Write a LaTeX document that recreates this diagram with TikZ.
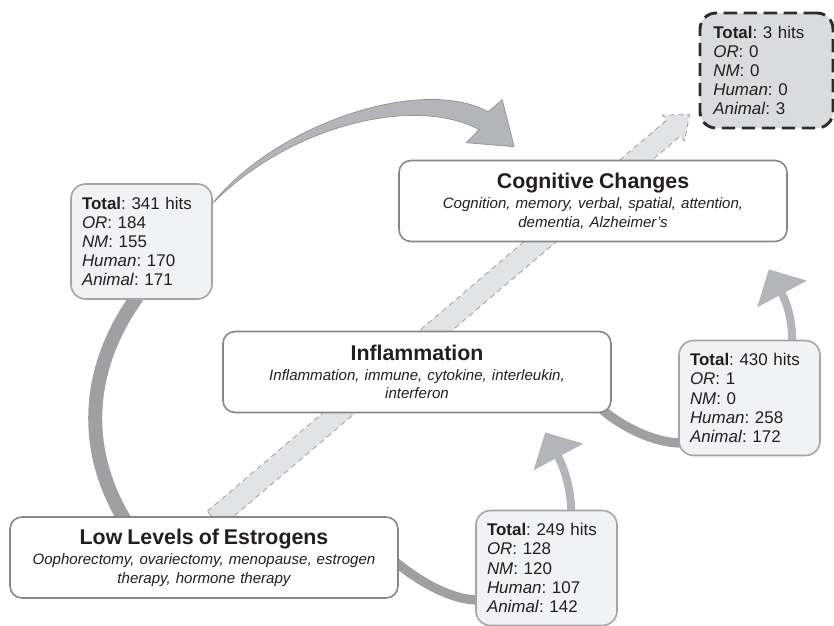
\documentclass[tikz,border=0pt]{standalone}
\usepackage{fontspec}
\setmainfont{Liberation Sans}
\usepackage{xcolor}
\usetikzlibrary{calc,backgrounds,arrows.meta}
\definecolor{boxline}{RGB}{135,135,138}
\definecolor{cntfill}{RGB}{241,242,244}
\definecolor{cntline}{RGB}{165,165,168}
\definecolor{banddark}{RGB}{160,160,163}
\definecolor{arrowlight}{RGB}{180,181,184}
\definecolor{arrowline}{RGB}{145,145,148}
\definecolor{dashfill}{RGB}{226,227,229}
\definecolor{dashline}{RGB}{160,160,163}
\definecolor{emptyfill}{RGB}{218,219,221}
\definecolor{txt}{RGB}{35,31,32}

\newcommand{\titlef}{\fontsize{16pt}{19pt}\selectfont\bfseries\upshape}

\begin{document}
\begin{tikzpicture}[x=0.75pt,y=-0.75pt,
    mainbox/.style={draw=boxline, line width=1.2pt, fill=white, rounded corners=9pt, text=txt,
        align=center, text width=281pt, inner xsep=5pt, minimum height=60.75pt,
        font=\fontsize{11.3pt}{14pt}\selectfont\itshape},
    countbox/.style={draw=cntline, line width=1.2pt, fill=cntfill, rounded corners=11pt, text=txt,
        align=left, text width=89.25pt, inner xsep=8.25pt, minimum height=86.25pt,
        font=\fontsize{12.7pt}{14.3pt}\selectfont\frenchspacing},
    emptybox/.style={draw=txt!95, fill=emptyfill, line width=2.2pt, dash pattern=on 10pt off 5pt,
        rounded corners=12pt, text width=79.75pt, inner xsep=10pt},
    band/.style={draw=banddark, line width=#1},
    curvearrow/.style={draw=arrowlight, line width=6pt, -{Triangle[width=41pt,length=21pt]}},
    dasharrow/.style={fill=dashfill, draw=dashline, line width=0.6pt, dash pattern=on 4pt off 3pt}]
    \useasboundingbox (0,0) rectangle (834,625);

    % boxes
    \node[mainbox] (low) at (204,557.5) {{\titlef Low Levels of Estrogens}\\[1pt]
        Oophorectomy, ovariectomy, menopause, estrogen\\ therapy, hormone therapy};
    \node[mainbox] (infl) at (417,372) {{\titlef Inflammation}\\[1pt]
        Inflammation, immune, cytokine, interleukin,\\ interferon};
    \node[mainbox] (cog) at (593,201) {{\titlef Cognitive Changes}\\[1pt]
        Cognition, memory, verbal, spatial, attention,\\ dementia, Alzheimer's};

    % hit counts
    \node[countbox] (c341) at (141.5,241.5) {\textbf{Total}: 341 hits\\ \textit{OR}: 184\\
        \textit{NM}: 155\\ \textit{Human}: 170\\ \textit{Animal}: 171};
    \node[countbox] (c249) at (546.5,568) {\textbf{Total}: 249 hits\\ \textit{OR}: 128\\
        \textit{NM}: 120\\ \textit{Human}: 107\\ \textit{Animal}: 142};
    \node[countbox] (c430) at (749.5,398) {\textbf{Total}: 430 hits\\ \textit{OR}: 1\\
        \textit{NM}: 0\\ \textit{Human}: 258\\ \textit{Animal}: 172};
    \node[countbox, emptybox] (c3) at (766.5,70.5) {\textbf{Total}: 3 hits\\ \textit{OR}: 0\\
        \textit{NM}: 0\\ \textit{Human}: 0\\ \textit{Animal}: 3};

    \begin{pgfonlayer}{background}
    % direct path, dashed
    \coordinate (dstart) at ($(low.north west)+(205,3)$);
    \coordinate (dtip) at ($(c3.south west)+(-9,-15)$);
    \coordinate (dbase) at ($(dtip)!15.75pt!(dstart)$);
    \draw[dasharrow] ($(dstart)!7.9pt!90:(dtip)$) -- ($(dbase)!7.9pt!90:(dtip)$)
        -- ($(dbase)!12.75pt!90:(dtip)$) -- (dtip) -- ($(dbase)!12.75pt!-90:(dtip)$)
        -- ($(dbase)!7.9pt!-90:(dtip)$) -- ($(dstart)!7.9pt!-90:(dtip)$) -- cycle;

    % estrogens -> cognition
    \draw[band=10.5pt] ($(low.north west)+(115,3)$) .. controls (80,445) and (88,365) .. ($(c341.south west)+(67,-3)$);
    \coordinate (ta) at ($(c341.north east)+(-1,21)$);
    \coordinate (tb) at ($(cog.north west)+(116,-13)$);
    \filldraw[fill=arrowlight, draw=arrowline, line width=0.5pt] (ta)
        .. controls (275,125) and (420,75) .. ($(tb)+(-26,-35)$) -- ($(tb)+(-12,-47)$) -- (tb)
        -- ($(tb)+(-48,-4)$) -- ($(tb)+(-35,-17)$) .. controls (415,95) and (290,125) .. (ta) -- cycle;

    % estrogens -> inflammation
    \draw[band=7pt] ($(low.north east)+(-3,46)$) .. controls +(17,14) and +(-31,0) .. ($(c249.west)+(3,32)$);
    \draw[curvearrow] ($(c249.north west)+(96,3)$) .. controls +(0,-30) and +(15,28) .. ($(infl.south west)+(323,19)$);

    % inflammation -> cognition
    \draw[band=7pt] ($(infl.south east)+(-10,-4)$) .. controls +(17,15) and +(-29,0) .. ($(c430.west)+(3,45)$);
    \draw[curvearrow] ($(c430.north west)+(114,3)$) .. controls +(0,-30) and +(15,28) .. ($(cog.south east)+(-19,27)$);
    \end{pgfonlayer}
\end{tikzpicture}
\end{document}
